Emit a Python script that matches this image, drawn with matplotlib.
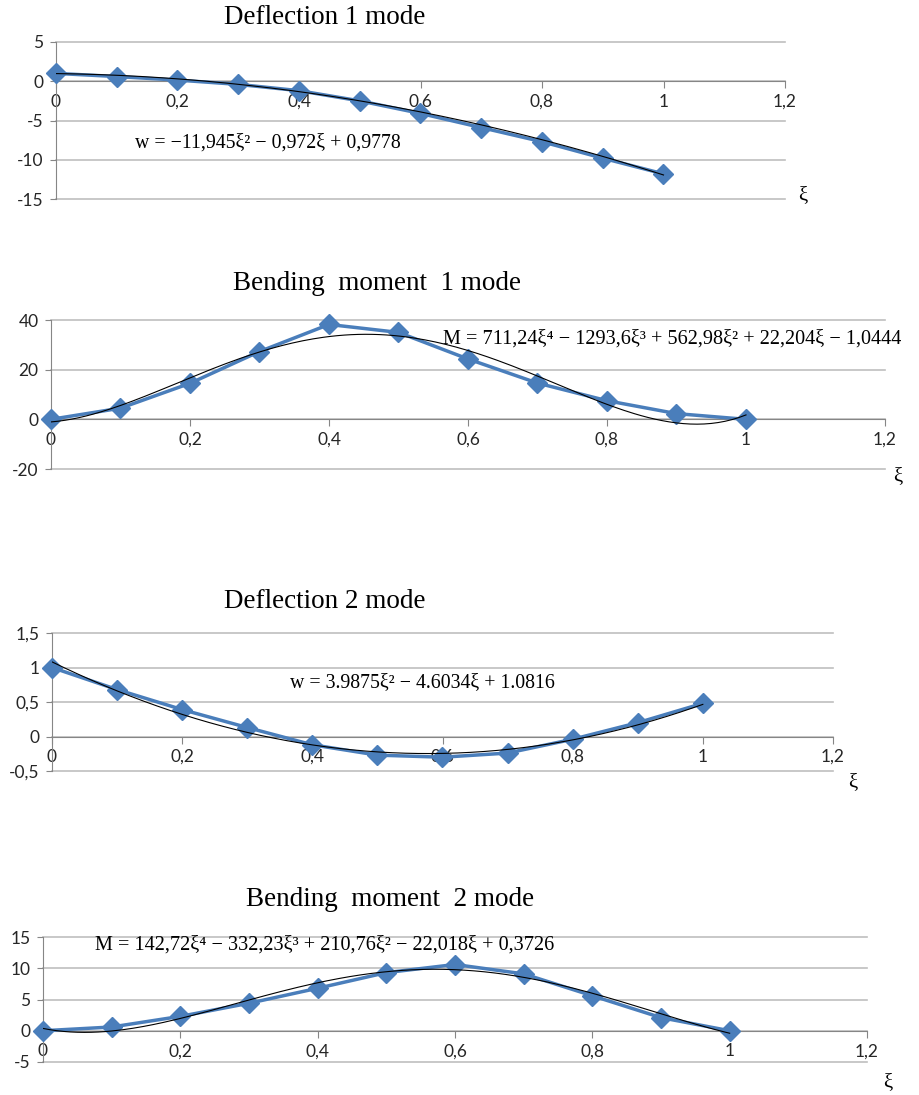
import numpy as np
import matplotlib
matplotlib.use("Agg")
import matplotlib.pyplot as plt
from matplotlib.ticker import FuncFormatter, MultipleLocator

# x positions (xi) shared by all four charts
xi = [0, 0.1, 0.2, 0.3, 0.4, 0.5, 0.6, 0.7, 0.8, 0.9, 1.0]

# values
w1 = [1.0, 0.6, 0.15, -0.4, -1.2, -2.5, -4.1, -5.9, -7.7, -9.8, -11.8]
m1 = [0, 4.5, 14.5, 27.3, 38.2, 35.0, 24.3, 14.6, 7.5, 2.3, 0]
w2 = [1.0, 0.68, 0.39, 0.13, -0.12, -0.27, -0.3, -0.24, -0.04, 0.2, 0.48]
m2 = [0, 0.6, 2.3, 4.4, 6.8, 9.3, 10.6, 9.1, 5.6, 2.1, 0]

# trend line coefficients (highest power first), as printed on the charts
fit_w1 = [-11.945, -0.972, 0.9778]
fit_m1 = [711.24, -1293.6, 562.98, 22.204, -1.0444]
fit_w2 = [3.9875, -4.6034, 1.0816]
fit_m2 = [142.72, -332.23, 210.76, -22.018, 0.3726]

titles = ["Deflection 1 mode", "Bending  moment  1 mode", "Deflection 2 mode", "Bending  moment  2 mode"]
equations = [
    "w = \u221211,945\u03be\u00b2 \u2212 0,972\u03be + 0,9778",
    "M = 711,24\u03be\u2074 \u2212 1293,6\u03be\u00b3 + 562,98\u03be\u00b2 + 22,204\u03be \u2212 1,0444",
    "w = 3.9875\u03be\u00b2 \u2212 4.6034\u03be + 1.0816",
    "M = 142,72\u03be\u2074 \u2212 332,23\u03be\u00b3 + 210,76\u03be\u00b2 \u2212 22,018\u03be + 0,3726",
]
y_limits = [(-15, 5), (-20, 40), (-0.5, 1.5), (-5, 15)]
y_steps = [5, 20, 0.5, 5]

W, H = 920, 1095
fig = plt.figure(figsize=(W / 100, H / 100), dpi=100)

# axes boxes in pixels: left, top, right, bottom
boxes = [(56, 42, 785, 199), (51, 320, 885, 469), (52, 633, 833, 771), (43, 937, 867, 1062)]
title_pos = [(325, 18), (377, 284), (325, 601), (390, 900)]
eq_pos = [(135, 143), (443, 339), (290, 683), (95, 945)]
eq_size = [14.3, 14.6, 14.3, 14.6]
xi_pos = [(803, 196), (898, 477), (853, 783), (888, 1083)]

blue = "#4a7ebb"
grid_c = "#bfbfbf"
axis_c = "#868686"
serif = ["Liberation Serif", "DejaVu Serif"]


def comma(v, pos):
    s = ("%g" % round(v, 3)).replace(".", ",")
    return s


data = [(w1, fit_w1), (m1, fit_m1), (w2, fit_w2), (m2, fit_m2)]

for i, (vals, fit) in enumerate(data):
    l, t, r, b = boxes[i]
    ax = fig.add_axes([l / W, 1 - b / H, (r - l) / W, (b - t) / H])
    ax.set_xlim(0, 1.2)
    ax.set_ylim(*y_limits[i])
    ax.xaxis.set_major_locator(MultipleLocator(0.2))
    ax.yaxis.set_major_locator(MultipleLocator(y_steps[i]))
    ax.xaxis.set_major_formatter(FuncFormatter(comma))
    ax.yaxis.set_major_formatter(FuncFormatter(comma))

    for s in ["top", "right"]:
        ax.spines[s].set_visible(False)
    ax.spines["bottom"].set_position(("data", 0))
    ax.spines["bottom"].set_color(axis_c)
    ax.spines["left"].set_color(axis_c)
    ax.grid(axis="y", color=grid_c, linewidth=1.2)
    for gl in ax.get_ygridlines():
        gl.set_clip_on(False)
    ax.set_axisbelow(True)
    ax.tick_params(axis="x", direction="out", length=5, color=axis_c, pad=4,
                   labelsize=12.5, labelcolor="#262626")
    ax.tick_params(axis="y", direction="out", length=4, color=axis_c, pad=5,
                   labelsize=12.5, labelcolor="#262626")
    for lab in ax.get_xticklabels() + ax.get_yticklabels():
        lab.set_family("Lato")

    ax.plot(xi, vals, color=blue, lw=2.5, marker="D", markersize=10,
            markeredgecolor=blue, clip_on=False, zorder=3)
    xs = np.linspace(0, 1, 200)
    ax.plot(xs, np.polyval(fit, xs), color="black", lw=0.8, zorder=4)

    tx, ty = title_pos[i]
    fig.text(tx / W, 1 - ty / H, titles[i], ha="center", va="center",
             family=serif, fontsize=19.5)
    ex, ey = eq_pos[i]
    fig.text(ex / W, 1 - ey / H, equations[i], ha="left", va="center",
             family=serif, fontsize=eq_size[i])
    gx, gy = xi_pos[i]
    fig.text(gx / W, 1 - gy / H, "\u03be", ha="center", va="center",
             family=serif, fontsize=15)

fig.savefig("out.png", dpi=100)
